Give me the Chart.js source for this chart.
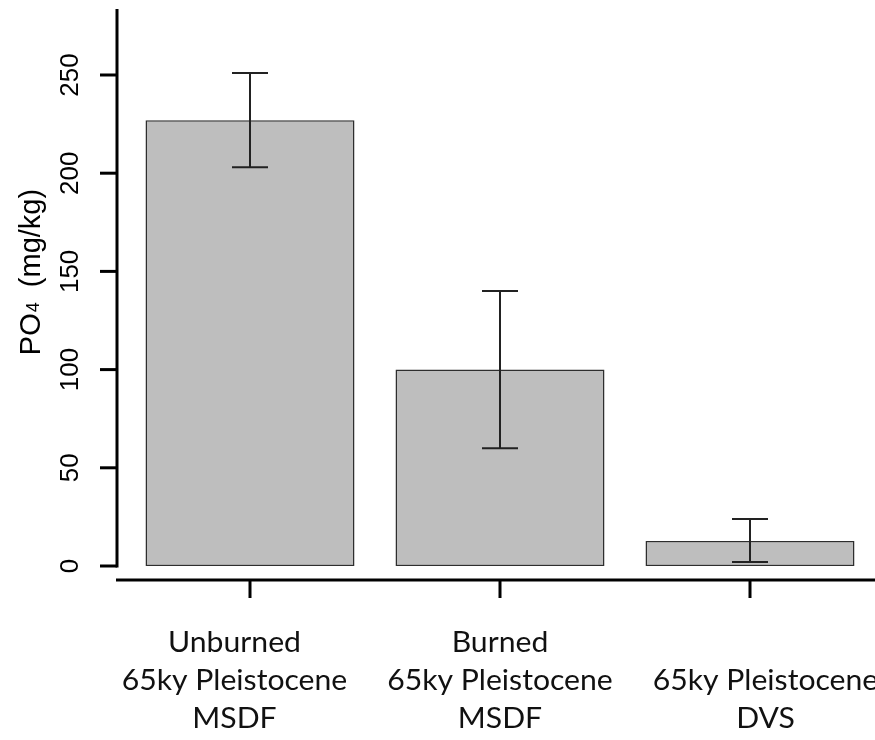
<!DOCTYPE html>
<html>
<head>
<meta charset="utf-8">
<title>PO4 bar chart</title>
<script src="https://cdn.jsdelivr.net/npm/chart.js@4"></script>
<style>
  body { margin: 0; background: #fff; }
  canvas { display: block; }
</style>
</head>
<body>
<canvas id="po4chart" width="875" height="740"></canvas>
<script>
// values
const categories = ["Unburned MSDF", "Burned MSDF", "DVS"];
const labelLines = [
  ["Unburned", "65ky Pleistocene", "MSDF"],
  ["Burned", "65ky Pleistocene", "MSDF"],
  ["65ky Pleistocene", "DVS"],
];
const po4Mean = [227, 100, 12.7];
const errLow = [203, 60, 2];
const errHigh = [251, 140, 23.9];
const yTicks = [0, 50, 100, 150, 200, 250];

// draws error bars, R-style axes and the labels
const rAxesPlugin = {
  id: "rAxes",
  afterDatasetsDraw(chart) {
    const ctx = chart.ctx;
    const x = chart.scales.x;
    const y = chart.scales.y;
    ctx.save();
    ctx.strokeStyle = "#222";
    ctx.lineWidth = 2;
    po4Mean.forEach((v, i) => {
      const cx = x.getPixelForValue(i);
      const top = y.getPixelForValue(errHigh[i]);
      const bot = y.getPixelForValue(errLow[i]);
      ctx.beginPath();
      ctx.moveTo(cx, top);
      ctx.lineTo(cx, bot);
      ctx.moveTo(cx - 18, top);
      ctx.lineTo(cx + 18, top);
      ctx.moveTo(cx - 18, bot);
      ctx.lineTo(cx + 18, bot);
      ctx.stroke();
    });
    ctx.restore();
  },
  afterDraw(chart) {
    const ctx = chart.ctx;
    const area = chart.chartArea;
    const x = chart.scales.x;
    const y = chart.scales.y;
    const axisX = area.left - 8;
    const axisY = area.bottom + 14;

    ctx.save();
    ctx.strokeStyle = "#000";
    ctx.fillStyle = "#000";
    ctx.lineWidth = 3;

    // y axis
    ctx.beginPath();
    ctx.moveTo(axisX, area.top);
    ctx.lineTo(axisX, y.getPixelForValue(0) + 1.5);
    ctx.stroke();
    ctx.font = "26px 'Liberation Sans', Arial, sans-serif";
    ctx.textAlign = "center";
    ctx.textBaseline = "alphabetic";
    yTicks.forEach((t) => {
      const py = y.getPixelForValue(t);
      ctx.beginPath();
      ctx.moveTo(axisX - 17, py);
      ctx.lineTo(axisX, py);
      ctx.stroke();
      ctx.save();
      ctx.translate(78, py);
      ctx.rotate(-Math.PI / 2);
      ctx.fillText(String(t), 0, 0);
      ctx.restore();
    });

    // y title with subscript
    ctx.save();
    ctx.translate(40, 272);
    ctx.rotate(-Math.PI / 2);
    ctx.textAlign = "left";
    const big = "29px 'Liberation Sans', Arial, sans-serif";
    const small = "18px 'Liberation Sans', Arial, sans-serif";
    ctx.font = big;
    const wPO = ctx.measureText("PO").width;
    const wRest = ctx.measureText("  (mg/kg)").width;
    ctx.font = small;
    const w4 = ctx.measureText("4").width;
    let sx = -(wPO + w4 + wRest) / 2;
    ctx.font = big;
    ctx.fillText("PO", sx, 0);
    sx += wPO;
    ctx.font = small;
    ctx.fillText("4", sx + 1, -1);
    sx += w4;
    ctx.font = big;
    ctx.fillText("  (mg/kg)", sx, 0);
    ctx.restore();

    // x axis
    ctx.beginPath();
    ctx.moveTo(axisX - 1, axisY);
    ctx.lineTo(chart.width, axisY);
    ctx.stroke();
    categories.forEach((c, i) => {
      const px = x.getPixelForValue(i);
      ctx.beginPath();
      ctx.moveTo(px, axisY);
      ctx.lineTo(px, axisY + 18);
      ctx.stroke();
    });

    // category labels
    ctx.fillStyle = "#111";
    ctx.font = "29px Lato, 'Open Sans', sans-serif";
    ctx.textAlign = "center";
    labelLines.forEach((lines, i) => {
      const cx = x.getPixelForValue(i) + (i - 1) * 15.5;
      const first = 652 + (3 - lines.length) * 38;
      lines.forEach((ln, j) => {
        ctx.save();
        ctx.translate(cx, first + j * 38);
        ctx.scale(1.04, 1);
        ctx.fillText(ln, 0, 0);
        ctx.restore();
      });
    });
    ctx.restore();
  },
};

const ctx = document.getElementById("po4chart").getContext("2d");

new Chart(ctx, {
  type: "bar",
  data: {
    labels: categories,
    datasets: [
      {
        label: "PO4 (mg/kg)",
        data: po4Mean,
        backgroundColor: "#bebebe",
        borderColor: "#2e2e2e",
        borderWidth: 1.5,
        borderSkipped: false,
        categoryPercentage: 1,
        barPercentage: 0.836,
      },
    ],
  },
  options: {
    responsive: false,
    animation: false,
    layout: {
      padding: { left: 125, right: 0, top: 9, bottom: 174 },
    },
    plugins: {
      legend: { display: false },
      tooltip: { enabled: false },
    },
    scales: {
      x: { display: false },
      y: { display: false, min: 0, max: 283.6 },
    },
  },
  plugins: [rAxesPlugin],
});
</script>
</body>
</html>
